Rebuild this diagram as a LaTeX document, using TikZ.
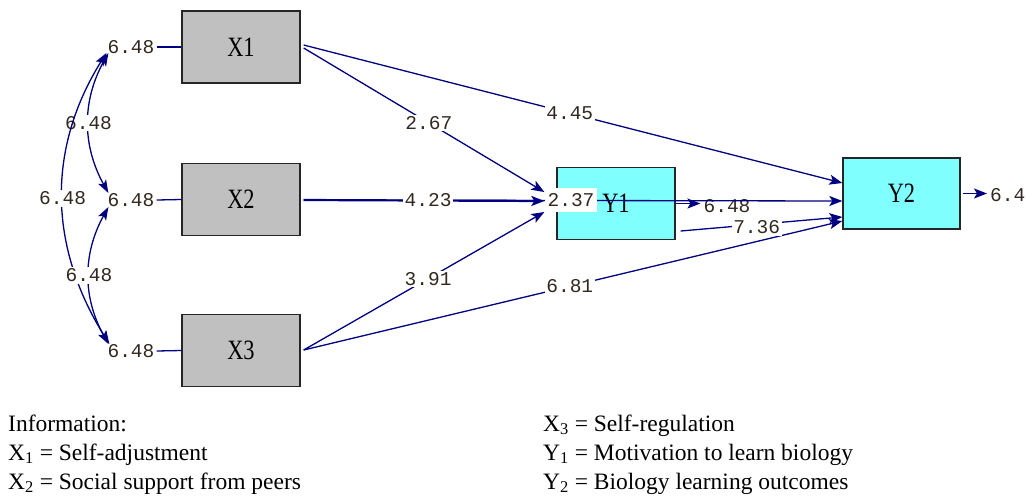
\documentclass[tikz,border=0pt]{standalone}
\usepackage{fontspec}
\setmainfont{Liberation Serif}
\newfontfamily\monof{Liberation Mono}
\newfontfamily\boxf{Liberation Serif}[FakeStretch=0.8]
\usetikzlibrary{arrows.meta}
\definecolor{navy}{RGB}{0,0,128}
\definecolor{grayfill}{RGB}{192,192,192}
\definecolor{cyanfill}{RGB}{128,255,255}
\definecolor{numtext}{RGB}{50,40,30}
\begin{document}
\begin{tikzpicture}[x=1pt,y=1pt,
  varbox/.style={draw=black!85, line width=1.3pt, minimum width=118pt, minimum height=72pt, inner sep=0pt, font=\boxf\fontsize{28}{28}\selectfont},
  xvar/.style={varbox, fill=grayfill},
  yvar/.style={varbox, fill=cyanfill},
  num/.style={font=\monof\fontsize{19.5}{20}\selectfont, text=numtext, inner sep=0pt},
  lab/.style={num, fill=white, inner sep=1.5pt},
  conn/.style={draw=navy, line width=1.3pt},
  arr/.style={conn, -{Stealth[length=13pt,width=10pt,inset=3pt]}},
  corr/.style={conn, {Stealth[length=13pt,width=9pt,inset=3pt]}-{Stealth[length=13pt,width=9pt,inset=3pt]}},
  legend/.style={anchor=base west, inner sep=0pt, font=\fontsize{23.5}{27}\selectfont}
]
\useasboundingbox (0,0) rectangle (1027,-496);

% variables
\node[xvar] (X1) at (241,-47) {X1};
\node[xvar] (X2) at (241,-199.5) {X2};
\node[xvar] (X3) at (241,-350.5) {X3};
\node[yvar] (Y1) at (616,-203.5) {Y1};
\node[yvar, minimum width=117pt, minimum height=71pt] (Y2) at (901.5,-193.5) {Y2};

% error terms
\node[num] (e1) at (131,-47) {6.48};
\node[num] (e2) at (131,-200) {6.48};
\node[num] (e3) at (131,-351) {6.48};
\node[num] (e4) at (727,-206) {6.48};
\node[num, anchor=west] (e5) at (990,-195) {6.4};

\draw[conn] ([xshift=2pt]e1.east) -- (X1.west);
\draw[conn] ([xshift=2pt]e2.east) -- (X2.west);
\draw[conn] ([xshift=2pt]e3.east) -- (X3.west);

% correlations
\draw[corr] ([xshift=1pt,yshift=-6pt]e1.west) to[out=241,in=119] node[lab, midway]{6.48} ([xshift=1pt,yshift=7pt]e2.west);
\draw[corr] ([xshift=-1pt,yshift=-6pt]e1.west) to[out=238,in=122] node[lab, midway]{6.48} ([xshift=2pt,yshift=7pt]e3.west);
\draw[corr] ([xshift=1pt,yshift=-7pt]e2.west) to[out=241,in=119] node[lab, midway]{6.48} ([xshift=1pt,yshift=7pt]e3.west);

% paths
\draw[arr] ([xshift=3pt,yshift=-0.5pt]X2.east) -- ([yshift=-7.5pt]Y2.west);
\draw[arr] ([xshift=3pt,yshift=-1pt]X1.east) -- node[lab, pos=0.52]{2.67} ([xshift=-12pt,yshift=11.5pt]Y1.west);
\draw[arr] ([xshift=3pt,yshift=2pt]X1.east) -- node[lab, pos=0.494]{4.45} ([yshift=10.5pt]Y2.west);
\draw[arr, line width=2.2pt] ([xshift=3pt,yshift=-0.5pt]X2.east) -- node[lab, pos=0.517]{4.23} ([xshift=-12pt,yshift=2.5pt]Y1.west);
\draw[arr] ([xshift=3pt,yshift=0.5pt]X3.east) -- node[lab, pos=0.517]{3.91} ([xshift=-12pt,yshift=-8.5pt]Y1.west);
\draw[arr] ([xshift=3pt,yshift=0.5pt]X3.east) -- node[lab, pos=0.494]{6.81} ([yshift=-27.5pt]Y2.west);
\draw[arr] ([xshift=5pt,yshift=-27.5pt]Y1.east) -- node[lab, pos=0.47, yshift=-3pt]{7.36} ([yshift=-23.5pt]Y2.west);

\draw[arr, shorten >=3pt] (Y1.east) -- (Y1.east -| e4.west);
\draw[arr, shorten >=3pt] ([xshift=2pt]Y2.east) -- (Y2.east -| e5.west);

\node[num, fill=white, inner xsep=2.5pt, inner ysep=5pt] (r1) at (571,-200) {2.37};

% legend
\node[legend] (L0) at (8,-431) {Information:};
\node[legend] (L1) at (8,-460) {X\textsubscript{1} = Self-adjustment};
\node[legend] (L2) at (8,-489) {X\textsubscript{2} = Social support from peers};
\node[legend] (L3) at (543,-431) {X\textsubscript{3} = Self-regulation};
\node[legend] (L4) at (543,-460) {Y\textsubscript{1} = Motivation to learn biology};
\node[legend] (L5) at (543,-489) {Y\textsubscript{2} = Biology learning outcomes};
\end{tikzpicture}
\end{document}
